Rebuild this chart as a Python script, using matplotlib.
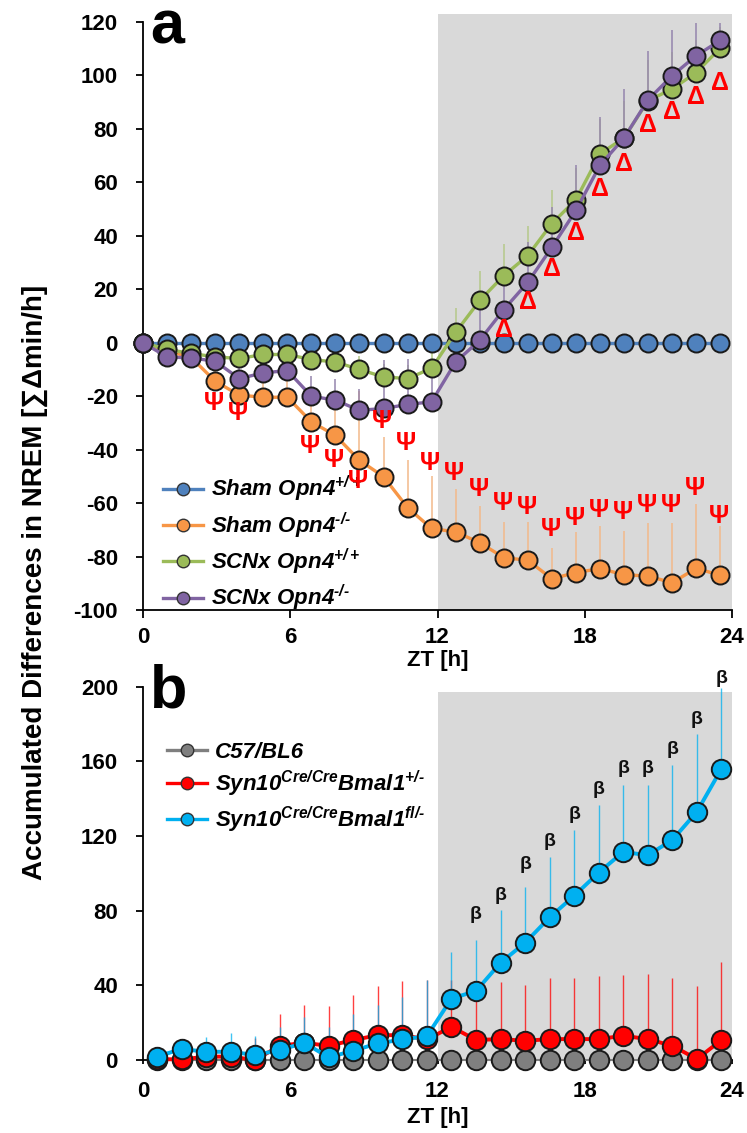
import matplotlib
matplotlib.use("Agg")
import matplotlib.pyplot as plt
from matplotlib.lines import Line2D

plt.rcParams['font.family'] = ['Liberation Sans', 'DejaVu Sans']
plt.rcParams['font.weight'] = 'bold'
plt.rcParams['axes.unicode_minus'] = False
plt.rcParams['mathtext.fontset'] = 'custom'
plt.rcParams['mathtext.it'] = 'Liberation Sans:italic:bold'
plt.rcParams['mathtext.rm'] = 'Liberation Sans:italic:bold'
plt.rcParams['mathtext.bf'] = 'Liberation Sans:italic:bold'
plt.rcParams['mathtext.default'] = 'it'

# ---------------- panel a data ----------------
ZT_A = [0, 0.98, 1.96, 2.94, 3.92, 4.9, 5.88, 6.86, 7.84, 8.82, 9.8, 10.78,
        11.76, 12.74, 13.72, 14.7, 15.68, 16.66, 17.64, 18.62, 19.6, 20.58,
        21.56, 22.54, 23.52]
SHAM_WT = [0] * 25
SHAM_KO = [0, -3, -5.5, -14.4, -19.6, -20.4, -20.4, -29.6, -34.7, -44, -50.1,
           -61.7, -69.5, -70.8, -74.8, -80.4, -81.4, -88.3, -86, -84.5, -86.8,
           -87.3, -89.8, -84.4, -87]
SHAM_KO_ERR = [0, 2, 3, 5, 6, 6.6, 6.6, 10, 14, 26, 15, 18, 19.6, 15.9, 13.7,
               13.3, 14.3, 11.6, 15.3, 15.9, 16.3, 20, 22.5, 23.9, 18.4]
SCNX_WT = [0, -2.5, -4, -5.3, -5.9, -4.4, -4.4, -6.3, -7.2, -10, -12.8, -13.4,
           -9.6, 3.9, 15.8, 25.1, 32.6, 44.6, 53.5, 70.7, 76.6, 90.6, 94.9,
           101.1, 110.2]
SCNX_WT_ERR = [0, 1, 1, 2, 2, 2, 2, 3, 3, 5, 5, 5, 7, 9, 11, 12, 11, 12.7, 12,
               13, 14, 15, 14, 12, 8]
SCNX_KO = [0, -5.3, -5.7, -6.9, -13.4, -11.3, -10.4, -20, -21.5, -25.3, -24.6,
           -23.1, -22.1, -7.2, 0.9, 12.4, 22.6, 35.7, 49.5, 66.4, 76.6, 90.9,
           99.9, 107.4, 113.1]
SCNX_KO_ERR = [0, 1, 2, 3, 4, 4, 4, 7.5, 8, 8, 18, 17, 15, 12, 14, 15, 15, 15,
               17, 18, 18.4, 18.4, 17, 12.4, 6.7]
LABELS_A = ["Sham Opn4$^{+/+}$", "Sham Opn4$^{\u2010/\u2010}$",
            "SCNx Opn4$^{+/+}$", "SCNx Opn4$^{\u2010/\u2010}$"]
PSI_IDX = [3, 4, 7, 8, 9, 10, 11, 12, 13, 14, 15, 16, 17, 18, 19, 20, 21, 22,
           23, 24]
PSI_Y = [-22.5, -26.2, -38.7, -43.7, -51.8, -29.3, -37.4, -44.9, -48.6, -54.9,
         -60.1, -61.4, -69.8, -65.5, -62.6, -63.2, -60.9, -60.9, -54.3, -64.9]
DELTA_IDX = [15, 16, 17, 18, 19, 20, 21, 22, 23, 24]
DELTA_Y = [4.9, 15.4, 27.4, 41.1, 57.5, 66.9, 81.6, 86.5, 92.1, 97.2]

# ---------------- panel b data ----------------
ZT_B = [0.57, 1.57, 2.57, 3.57, 4.57, 5.57, 6.57, 7.57, 8.57, 9.57, 10.57,
        11.57, 12.57, 13.57, 14.57, 15.57, 16.57, 17.57, 18.57, 19.57, 20.57,
        21.57, 22.57, 23.57]
C57 = [0] * 24
BMAL_HET = [0.5, 0.3, 1.8, 1.8, 0, 7.6, 9.2, 7.6, 10.7, 13.3, 13.3, 11, 17.8,
            10.7, 11.2, 10.3, 11.2, 11.2, 11.2, 13, 11.2, 7.6, 0.5, 10.7]
BMAL_HET_ERR = [2, 3, 5, 5, 12, 16.8, 20, 21.4, 24, 26.3, 29, 31.7, 25, 31,
                30.6, 30, 32.7, 32.7, 33.8, 32.7, 35, 36.5, 39.1, 41.7]
BMAL_KO = [1.8, 5.9, 4.4, 4.4, 2.7, 5.3, 9.2, 1.4, 5, 8.9, 11, 12.8, 32.9, 37,
           52.1, 62.8, 76.4, 88, 100.4, 111.5, 109.7, 117.9, 133, 156]
BMAL_KO_ERR = [3, 5, 8, 9.8, 10, 12.5, 14, 16.4, 19.4, 20.4, 22.8, 30, 25.2,
               27.4, 28.4, 30, 32.4, 35, 36, 36.1, 37.9, 40, 41.8, 43.1]
LABELS_B = ["C57/BL6", "Syn10$^{Cre/Cre}$Bmal1$^{+/\u2010}$",
            "Syn10$^{Cre/Cre}$Bmal1$^{fl/\u2010}$"]
BETA_IDX = [13, 14, 15, 16, 17, 18, 19, 20, 21, 22, 23]
BETA_Y = [78, 88, 105, 117, 131.6, 145, 156.4, 156.4, 166.2, 182.2, 204.4]

COLORS_A = ["#4f81bd", "#f79646", "#9bbb59", "#8064a2"]
ERRCOL_A = [None, "#f2b98a", "#b5c98a", "#9585ad"]
COLORS_B = ["#7f7f7f", "#ff0000", "#00b0f0"]
SHADE = "#d9d9d9"

fig = plt.figure(figsize=(7.47, 11.33), dpi=100)
W, H = 747.0, 1133.0


def style_axes(ax):
    for s in ("top", "right"):
        ax.spines[s].set_visible(False)
    for s in ("left", "bottom"):
        ax.spines[s].set_linewidth(1.3)
    ax.tick_params(axis='y', direction='out', length=5, width=1.3,
                   labelsize=16, pad=13)
    ax.tick_params(axis='x', direction='out', length=6, width=1.3,
                   labelsize=16, pad=6)
    ax.set_xlim(0, 24)
    ax.set_xticks([0, 6, 12, 18, 24])
    for lab in ax.get_xticklabels() + ax.get_yticklabels():
        lab.set_fontweight('bold')


# ---------------- panel a ----------------
axa = fig.add_axes([143 / W, 1 - 610 / H, 589 / W, 588 / H])
style_axes(axa)
axa.set_ylim(-100, 120)
axa.set_yticks(range(-100, 121, 20))
axa.axvspan(12, 24, ymin=0, ymax=1.014, color=SHADE, lw=0, zorder=0,
            clip_on=False)

series_a = [SHAM_WT, SHAM_KO, SCNX_WT, SCNX_KO]
errs_a = [None, SHAM_KO_ERR, SCNX_WT_ERR, SCNX_KO_ERR]
for vals, err, col in zip(series_a, errs_a, ERRCOL_A):
    if err is None:
        continue
    top = [v + e for v, e in zip(vals, err)]
    axa.vlines(ZT_A, vals, top, color=col, lw=1.1, zorder=1)

for k, (vals, col) in enumerate(zip(series_a, COLORS_A)):
    axa.plot(ZT_A, vals, '-o', color=col, lw=2.4, ms=13, mfc=col,
             mec='#1a1a1a', mew=1.4, zorder=3 + k, clip_on=False)

for i, y in zip(PSI_IDX, PSI_Y):
    axa.text(ZT_A[i] - 0.05, y, "Ψ", color='red', fontsize=18,
             fontweight='bold', ha='center', va='center', zorder=10)
for i, y in zip(DELTA_IDX, DELTA_Y):
    axa.text(ZT_A[i], y, "Δ", color='red', fontsize=18,
             fontweight='bold', ha='center', va='center', zorder=10)

axa.set_xlabel("ZT [h]", fontsize=16, fontweight='bold', labelpad=2)

handles_a = [Line2D([0], [0], color=c, lw=2.4, marker='o', ms=9, mfc=c,
                    mec='#333333', mew=1) for c in COLORS_A]
leg = axa.legend(handles_a, LABELS_A, loc='upper left',
                 bbox_to_anchor=(20 / 589, (610 - 474) / 588),
                 frameon=False, fontsize=16, handlelength=1.8,
                 handletextpad=0.35, labelspacing=0.28, borderpad=0,
                 borderaxespad=0)
for t in leg.get_texts():
    t.set_fontstyle('italic')
    t.set_fontweight('bold')

# ---------------- panel b ----------------
axb = fig.add_axes([143 / W, 1 - 1060 / H, 589 / W, 373.3 / H])
style_axes(axb)
axb.tick_params(axis='x', length=3, pad=12)
axb.set_ylim(0, 200)
axb.set_yticks(range(0, 201, 40))
axb.axvspan(12, 24, ymin=0, ymax=0.985, color=SHADE, lw=0, zorder=0)

series_b = [C57, BMAL_HET, BMAL_KO]
errs_b = [None, BMAL_HET_ERR, BMAL_KO_ERR]
for vals, err, col in zip(series_b, errs_b, COLORS_B):
    if err is None:
        continue
    top = [v + e for v, e in zip(vals, err)]
    axb.vlines(ZT_B, vals, top, color=col, lw=1.0, alpha=0.75, zorder=1,
               clip_on=False)

for k, (vals, col) in enumerate(zip(series_b, COLORS_B)):
    axb.plot(ZT_B, vals, '-o', color=col, lw=2.8 if k else 1.5, ms=14,
             mfc=col, mec='#1a1a1a', mew=1.4, zorder=3 + k, clip_on=False)

for i, y in zip(BETA_IDX, BETA_Y):
    axb.text(ZT_B[i], y, "β", color='#111111', fontsize=14,
             fontweight='bold', ha='center', va='center', zorder=10,
             clip_on=False)

axb.set_xlabel("ZT [h]", fontsize=16, fontweight='bold', labelpad=4)

handles_b = [Line2D([0], [0], color=c, lw=2.4, marker='o', ms=9, mfc=c,
                    mec='#333333', mew=1) for c in COLORS_B]
legb = axb.legend(handles_b, LABELS_B, loc='upper left',
                  bbox_to_anchor=(24 / 589, (1060 - 742) / 373.3),
                  frameon=False, fontsize=16, handlelength=1.8,
                  handletextpad=0.35, labelspacing=0.25, borderpad=0,
                  borderaxespad=0)
for t in legb.get_texts():
    t.set_fontstyle('italic')
    t.set_fontweight('bold')

# panel letters and shared y label
fig.text(150 / W, 1 - 43 / H, "a", fontsize=44, fontweight='bold',
         ha='left', va='baseline')
fig.text(150 / W, 1 - 708 / H, "b", fontsize=44, fontweight='bold',
         ha='left', va='baseline')
fig.text(35 / W, 1 - 582 / H, "Accumulated Differences in NREM [∑Δmin/h]",
         rotation=90, fontsize=20, fontweight='bold', ha='center',
         va='center')

fig.savefig("out.png", dpi=100)
